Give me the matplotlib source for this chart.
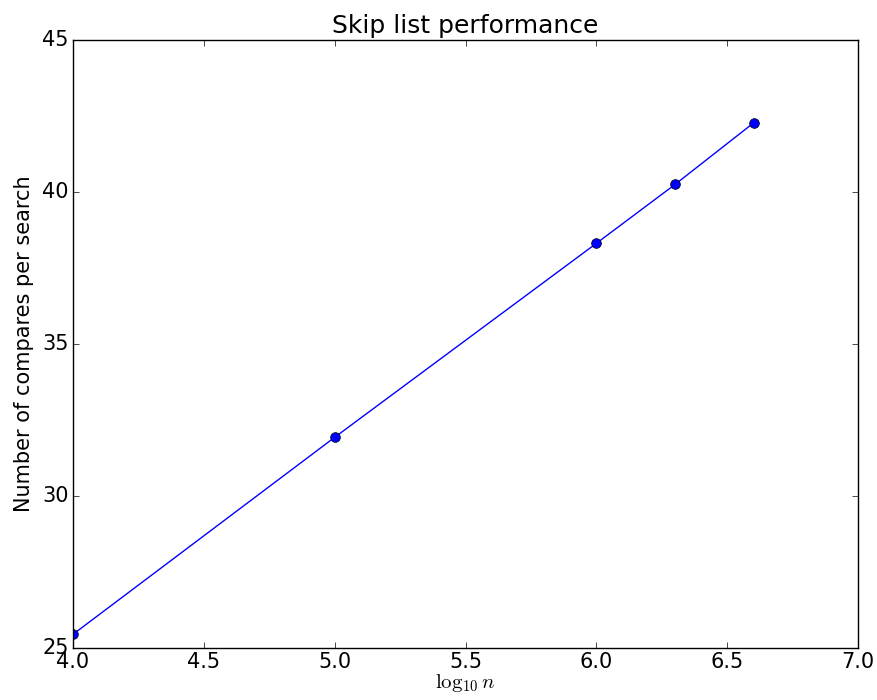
import matplotlib
matplotlib.use("Agg")
import matplotlib.pyplot as plt

plt.style.use("classic")

# log10(n) and compares per search
log_n = [4.0, 5.0, 6.0, 6.301, 6.602]
compares = [25.45, 31.93, 38.31, 40.25, 42.28]

fig = plt.figure(figsize=(8.78, 7.0), dpi=100, facecolor="white")
ax = fig.add_axes([73 / 878, 52 / 700, 785 / 878, 608 / 700])

ax.plot(log_n, compares, "bo-", markersize=7)

ax.set_xlim(4.0, 7.0)
ax.set_ylim(25, 45)
ax.set_xticks([4.0, 4.5, 5.0, 5.5, 6.0, 6.5, 7.0])
ax.set_yticks([25, 30, 35, 40, 45])
ax.tick_params(labelsize=15, pad=3)

ax.set_title("Skip list performance", fontsize=18)
ax.set_xlabel(r"$\log_{10}n$", fontsize=15, labelpad=0)
ax.set_ylabel("Number of compares per search", fontsize=15, labelpad=6)

fig.savefig("out.png", dpi=100, facecolor="white")
